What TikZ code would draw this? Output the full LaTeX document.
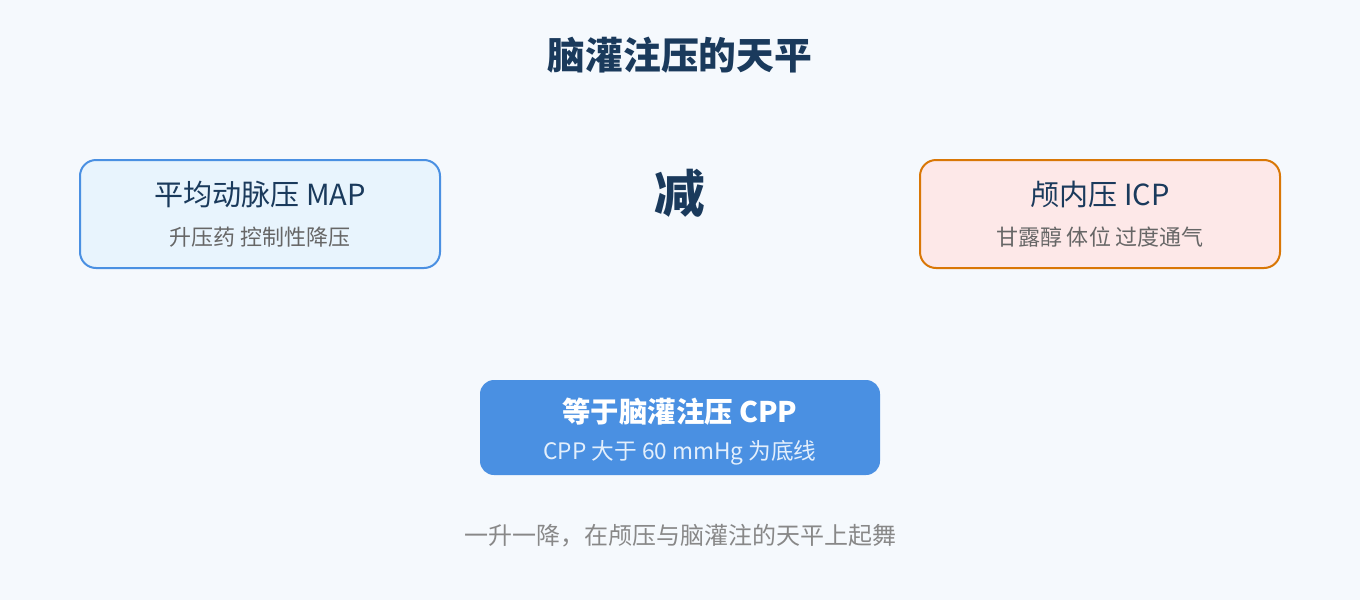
\documentclass[tikz,border=0pt]{standalone}
\usepackage{fontspec}
\setmainfont{Noto Sans CJK SC}
\usetikzlibrary{positioning}
\definecolor{pagebg}{HTML}{F5F9FD}
\definecolor{navy}{HTML}{1A3A5C}
\definecolor{subgray}{HTML}{666666}
\definecolor{mapblue}{HTML}{4A90E2}
\definecolor{mapfill}{HTML}{E8F4FD}
\definecolor{icporange}{HTML}{D97706}
\definecolor{icpfill}{HTML}{FDE8E8}
\definecolor{cppsub}{HTML}{E3EFFC}
\definecolor{footgray}{HTML}{888888}

\begin{document}
\begin{tikzpicture}[x=0.75pt,y=-0.75pt]
\tikzset{panel/.style={rectangle, rounded corners=12pt, line width=1.5pt, minimum width=270pt, minimum height=81pt},
		maintext/.style={inner sep=0pt, text=navy, font=\fontsize{21.8pt}{26pt}\selectfont},
		subtext/.style={inner sep=0pt, text=subgray, font=\fontsize{16.5pt}{20pt}\selectfont},
		heading/.style={inner sep=0pt, text=navy, font=\fontsize{28.3pt}{34pt}\selectfont\bfseries}}
\fill[pagebg] (0,0) rectangle (1360,600);
\node[heading] (T) at (680,55) {脑灌注压的天平};
\node[panel, fill=mapfill, draw=mapblue] (MAP) at (260,214) {};
\node[maintext] (MAPt) at (260,194) {平均动脉压 MAP};
\node[subtext] (MAPs) at (260,237) {升压药 控制性降压};
\node[heading, font=\fontsize{38pt}{44pt}\selectfont\bfseries] (MINUS) at (680,193) {减};
\node[panel, fill=icpfill, draw=icporange] (ICP) at (1100,214) {};
\node[maintext] (ICPt) at (1100,194) {颅内压 ICP};
\node[subtext] (ICPs) at (1100,237) {甘露醇 体位 过度通气};
\node[panel, fill=mapblue, draw=none, rounded corners=10.5pt, minimum width=300pt, minimum height=71.25pt] (CPP) at (680,427.5) {};
\node[maintext, text=white, font=\fontsize{21.3pt}{26pt}\selectfont\bfseries] (CPPt) at (680,412) {等于脑灌注压 CPP};
\node[subtext, text=cppsub, font=\fontsize{17pt}{20pt}\selectfont] (CPPs) at (680,453) {CPP 大于 60 mmHg 为底线};
\node[subtext, text=footgray, font=\fontsize{18pt}{22pt}\selectfont] (FOOT) at (680,536) {一升一降，在颅压与脑灌注的天平上起舞};
\end{tikzpicture}
\end{document}
